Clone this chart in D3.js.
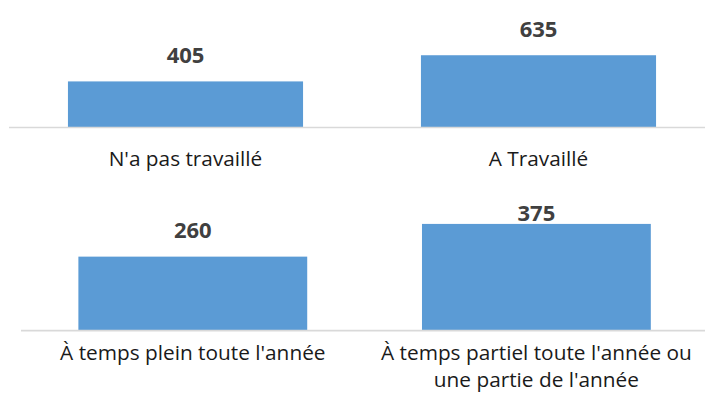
<!DOCTYPE html>
<html>
<head>
<meta charset="utf-8">
<script src="https://cdn.jsdelivr.net/npm/d3@7"></script>
<style>
  html, body { margin: 0; padding: 0; background: #fff; }
  svg { display: block; }
</style>
</head>
<body>
<svg id="chart" width="705" height="401"></svg>
<script>
// ---- Data ----
const categoriesTop = ["N'a pas travaillé", "A Travaillé"];
const valuesTop = [405, 635];
const categoriesBottom = ["À temps plein toute l'année", "À temps partiel toute l'année ou une partie de l'année"];
const valuesBottom = [260, 375];

// ---- Layout ----
const svg = d3.select("#chart");
const FONT = "'Open Sans', 'Noto Sans', sans-serif";
const BAR = "#5B9BD5";
const AXIS = "#D9D9D9";

const panels = [
  { cats: categoriesTop, vals: valuesTop, x0: 9, x1: 715, axisX0: 9, base: 127.5,
    domainMax: 700, pxPerUnit: 0.1138, labelTop: 18, catOffset: 38.5 },
  { cats: categoriesBottom, vals: valuesBottom, x0: 21, x1: 708.2, axisX0: 21, base: 330.6,
    domainMax: 400, pxPerUnit: 0.2845, labelTop: 221, catOffset: 29.4 }
];

function wrap(textSel, width, lineHeight) {
  textSel.each(function() {
    const text = d3.select(this);
    const words = text.text().split(/\s+/);
    const x = text.attr("x"), y = text.attr("y");
    text.text(null);
    let line = [], lineNo = 0;
    let tspan = text.append("tspan").attr("x", x).attr("y", y);
    for (const w of words) {
      line.push(w);
      tspan.text(line.join(" "));
      if (tspan.node().getComputedTextLength() > width && line.length > 1) {
        line.pop();
        tspan.text(line.join(" "));
        line = [w];
        lineNo++;
        tspan = text.append("tspan").attr("x", x).attr("y", +y + lineNo * lineHeight).text(w);
      }
    }
  });
}

panels.forEach(p => {
  const g = svg.append("g");
  const x = d3.scaleBand().domain(p.cats).range([p.x0, p.x1])
    .paddingInner(0.334).paddingOuter(0.167);
  const y = d3.scaleLinear().domain([0, p.domainMax])
    .range([p.base, p.base - p.domainMax * p.pxPerUnit]);

  const data = p.cats.map((c, i) => ({ c, v: p.vals[i] }));

  g.selectAll("rect.bar").data(data).join("rect")
    .attr("class", "bar")
    .attr("x", d => x(d.c))
    .attr("width", x.bandwidth())
    .attr("y", d => y(d.v))
    .attr("height", d => y(0) - y(d.v))
    .attr("fill", BAR);

  // axis baseline
  const axis = g.append("g").attr("transform", `translate(0,${y(0)})`)
    .call(d3.axisBottom(x).tickSize(0).tickFormat(""));
  axis.select(".domain").attr("stroke", AXIS).attr("stroke-width", 1.6)
    .attr("d", `M${p.axisX0},0H705`);

  // data labels
  g.selectAll("text.val").data(data).join("text")
    .attr("class", "val")
    .attr("x", d => x(d.c) + x.bandwidth() / 2)
    .attr("y", d => Math.max(y(d.v) - 18.5, p.labelTop))
    .attr("text-anchor", "middle")
    .attr("font-family", FONT)
    .attr("font-weight", "bold")
    .attr("font-size", 22)
    .attr("fill", "#404040")
    .text(d => d3.format("d")(d.v));

  // category labels
  g.selectAll("text.cat").data(data).join("text")
    .attr("class", "cat")
    .attr("x", d => x(d.c) + x.bandwidth() / 2)
    .attr("y", y(0) + p.catOffset)
    .attr("text-anchor", "middle")
    .attr("font-family", FONT)
    .attr("font-size", 20.8)
    .attr("fill", "#1a1a1a")
    .text(d => d.c)
    .call(wrap, x.step() - 4, 26.5);
});
</script>
</body>
</html>
